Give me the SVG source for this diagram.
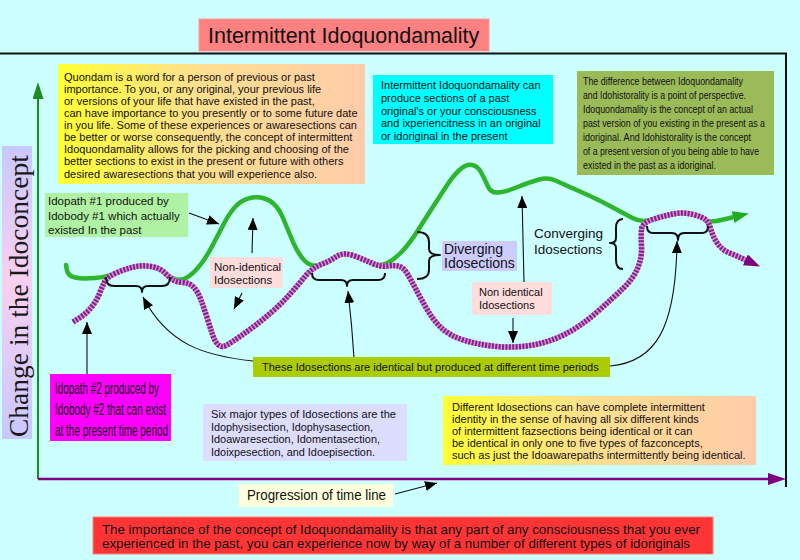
<svg xmlns="http://www.w3.org/2000/svg" width="800" height="560" viewBox="0 0 800 560">
<defs>
<style>
.t{font-family:"Liberation Sans",Arial,sans-serif;fill:#111}
.s11{font-size:11px}
.s115{font-size:11.5px}
.s14{font-size:14px}
.conn{fill:none;stroke:#111;stroke-width:1.1;marker-end:url(#ah)}
.brace{fill:none;stroke:#111;stroke-width:2;stroke-linejoin:round}
.g1{fill:none;stroke:#2eb52e;stroke-width:4.5;stroke-linecap:round;stroke-linejoin:round}
.p1{fill:none;stroke:#d39ad6;stroke-width:5.5;stroke-linejoin:round}
.p2{fill:none;stroke:#86208c;stroke-width:5.5;stroke-dasharray:2 1.4;stroke-linejoin:round}
</style>
<linearGradient id="warm" x1="0" y1="0" x2="1" y2="0"><stop offset="0" stop-color="#ffff33"/><stop offset="0.45" stop-color="#ffe08e"/><stop offset="1" stop-color="#ffccaa"/></linearGradient>
<linearGradient id="lav" x1="0" y1="0" x2="0" y2="1"><stop offset="0" stop-color="#c8c8ff"/><stop offset="0.45" stop-color="#f8d0f0"/><stop offset="1" stop-color="#c8c8ff"/></linearGradient>
<marker id="ah" viewBox="0 0 12 10" refX="12" refY="5" markerWidth="12" markerHeight="10" markerUnits="userSpaceOnUse" orient="auto"><path d="M0,0 L12,5 L0,10 z" fill="#000"/></marker>
<marker id="ahG" viewBox="0 0 16 12" refX="5" refY="6" markerWidth="16" markerHeight="12" markerUnits="userSpaceOnUse" orient="auto"><path d="M0,0 L16,6 L0,12 z" fill="#22aa22"/></marker>
<marker id="ahP" viewBox="0 0 16 12" refX="5" refY="6" markerWidth="16" markerHeight="12" markerUnits="userSpaceOnUse" orient="auto"><path d="M0,0 L16,6 L0,12 z" fill="#800080"/></marker>
<marker id="axG" viewBox="0 0 17 11" refX="0" refY="5.5" markerWidth="17" markerHeight="11" markerUnits="userSpaceOnUse" orient="auto"><path d="M0,0 L17,5.5 L0,11 z" fill="#1f8a1f"/></marker>
<marker id="axP" viewBox="0 0 18 12" refX="0" refY="6" markerWidth="18" markerHeight="12" markerUnits="userSpaceOnUse" orient="auto"><path d="M0,0 L18,6 L0,12 z" fill="#800080"/></marker>
</defs>
<rect x="0" y="0" width="800" height="560" fill="#ccffff"/>

<g id="frame">
<line x1="0" y1="53.5" x2="787" y2="53.5" stroke="#111" stroke-width="2"/>
<line x1="786" y1="53" x2="786" y2="487" stroke="#111" stroke-width="2"/>
<line x1="38" y1="479" x2="38" y2="99" stroke="#1f8a1f" stroke-width="2" marker-end="url(#axG)"/>
<line x1="38" y1="479" x2="768" y2="479" stroke="#800080" stroke-width="2.5" marker-end="url(#axP)"/>
</g>

<g id="title">
<rect x="199" y="19" width="290" height="32" fill="#ff8080" stroke="#ff9a9a" stroke-width="1"/>
<text class="t" x="208" y="42.5" font-size="21.5">Intermittent Idoquondamality</text>
</g>

<g id="ylabel">
<rect x="2" y="146" width="30" height="293" fill="url(#lav)"/>
<text transform="translate(28,437) rotate(-90)" font-family="'Liberation Serif','Times New Roman',serif" font-size="27.5" fill="#1a1a1a">Change in the Idoconcept</text>
</g>

<g id="paths">
<path id="idopath1" class="g1" d="M66,265 L67,270.5 Q68,276 75,277.5 Q82,279 94.5,278 Q107,277 116,273 Q125,269 133.5,267 Q142,265 151,266.5 Q160,268 165,273 Q170,278 176,279.5 Q182,281 188.5,276.5 Q195,272 201,264 Q207,256 212.5,245.5 Q218,235 224,223.5 Q230,212 236.5,205.5 Q243,199 252.5,197.5 Q262,196 270,201 Q278,206 283,218 Q288,230 293,242 Q298,254 305,261 Q312,268 321,264.5 Q330,261 336.5,256.5 Q343,252 353,255.5 Q363,259 371.5,263 Q380,267 387.5,263 Q395,259 402.5,251 Q410,243 418.5,229.5 Q427,216 433.5,206 Q440,196 446.5,186 Q453,176 459.5,170 Q466,164 472,165 Q478,166 481.5,173 Q485,180 488,186.5 Q491,193 498,192.5 Q505,192 517.5,187 Q530,182 539,179.5 Q548,177 555.5,180.5 Q563,184 580,191.5 Q597,199 610,206 Q623,213 632.5,218 Q642,223 652.5,219.5 Q663,216 673,214 Q683,212 693,214.5 Q703,217 706,220 Q709,223 723.5,219.5 L738,216" marker-end="url(#ahG)"/>
<g id="idopath2">
<path class="p1" d="M73,322 L80,317.5 Q87,313 92,306.5 Q97,300 99.5,293.5 Q102,287 104.5,282 Q107,277 116,273 Q125,269 133.5,267 Q142,265 151,266.5 Q160,268 165,273 Q170,278 173,280 Q176,282 183,282.5 Q190,283 194,287.5 Q198,292 201,300 Q204,308 207,317.5 Q210,327 212.5,334.5 Q215,342 218.5,345 Q222,348 227,345 Q232,342 240,336.5 Q248,331 256.5,324.5 Q265,318 274,310 Q283,302 290.5,293.5 Q298,285 305,276.5 Q312,268 321,264.5 Q330,261 336.5,256.5 Q343,252 353,255.5 Q363,259 371.5,263 Q380,267 387.5,266 Q395,265 399.5,266.5 Q404,268 407.5,274 Q411,280 415.5,288.5 Q420,297 426.5,308.5 Q433,320 441.5,328 Q450,336 465,340.5 Q480,345 496.5,346.5 Q513,348 530,345.5 Q547,343 563.5,335 Q580,327 596.5,312.5 Q613,298 623,288.5 Q633,279 637.5,268.5 Q642,258 641.5,247 Q641,236 641.5,229.5 Q642,223 652.5,219.5 Q663,216 673,214 Q683,212 693,214.5 Q703,217 706,220 Q709,223 711,230 Q713,237 717.5,243.5 Q722,250 729.5,253 Q737,256 743.5,259 L750,262"/>
<path class="p2" d="M73,322 L80,317.5 Q87,313 92,306.5 Q97,300 99.5,293.5 Q102,287 104.5,282 Q107,277 116,273 Q125,269 133.5,267 Q142,265 151,266.5 Q160,268 165,273 Q170,278 173,280 Q176,282 183,282.5 Q190,283 194,287.5 Q198,292 201,300 Q204,308 207,317.5 Q210,327 212.5,334.5 Q215,342 218.5,345 Q222,348 227,345 Q232,342 240,336.5 Q248,331 256.5,324.5 Q265,318 274,310 Q283,302 290.5,293.5 Q298,285 305,276.5 Q312,268 321,264.5 Q330,261 336.5,256.5 Q343,252 353,255.5 Q363,259 371.5,263 Q380,267 387.5,266 Q395,265 399.5,266.5 Q404,268 407.5,274 Q411,280 415.5,288.5 Q420,297 426.5,308.5 Q433,320 441.5,328 Q450,336 465,340.5 Q480,345 496.5,346.5 Q513,348 530,345.5 Q547,343 563.5,335 Q580,327 596.5,312.5 Q613,298 623,288.5 Q633,279 637.5,268.5 Q642,258 641.5,247 Q641,236 641.5,229.5 Q642,223 652.5,219.5 Q663,216 673,214 Q683,212 693,214.5 Q703,217 706,220 Q709,223 711,230 Q713,237 717.5,243.5 Q722,250 729.5,253 Q737,256 743.5,259 L750,262" marker-end="url(#ahP)"/>
</g>
</g>

<g id="braces">
<path class="brace" d="M106,277 Q106,286 114,286 L136,286 Q142,286 142,292 Q142,286 148,286 L162,286 Q170,286 170,277"/>
<path class="brace" d="M312,273 Q312,280 319,280 L341,280 Q347,280 347,286 Q347,280 353,280 L378,280 Q385,280 385,273"/>
<path class="brace" d="M417,232 Q429,232 429,242 L429,249 Q429,255 440,255 Q429,255 429,261 L429,270 Q429,279 417,279"/>
<path class="brace" d="M623,219 Q616,219 616,228 L616,238 Q616,243 610,243 Q616,243 616,248 L616,260 Q616,269 623,269"/>
<path class="brace" d="M647,226 Q647,233 653,233 L672,233 Q678,233 678,240 Q678,233 684,233 L702,233 Q708,233 708,226"/>
</g>

<g id="connectors">
<path class="conn" d="M189,213 L219,224"/>
<path class="conn" d="M252,253 L253,218"/>
<path class="conn" d="M242,293 L234,309"/>
<path class="conn" d="M253,361 C205,356 168,345 143,297"/>
<path class="conn" d="M354,358 Q352,325 348,291"/>
<path class="conn" d="M610,366 C655,362 676,330 677,241"/>
<path class="conn" d="M524,282 L522,196"/>
<path class="conn" d="M513,318 L513,343"/>
<path class="conn" d="M87,374 L87,322"/>
<path class="conn" d="M395,494 L437,483"/>
</g>

<g id="quondam">
<rect x="58" y="64" width="307" height="120" fill="url(#warm)"/>
<text class="t s11" x="64" y="81">Quondam is a word for a person of previous or past</text>
<text class="t s11" x="64" y="93">importance. To you, or any original, your previous life</text>
<text class="t s11" x="64" y="105.1">or versions of your life that have existed in the past,</text>
<text class="t s11" x="64" y="117.2">can have importance to you presently or to some future date</text>
<text class="t s11" x="64" y="129.2">in you life. Some of these experiences or awaresections can</text>
<text class="t s11" x="64" y="141.3">be better or worse consequently, the concept of intermittent</text>
<text class="t s11" x="64" y="153.4">Idoquondamality allows for the picking and choosing of the</text>
<text class="t s11" x="64" y="165.4">better sections to exist in the present or future with others</text>
<text class="t s11" x="64" y="177.5">desired awaresections that you will experience also.</text>
</g>

<g id="produce">
<rect x="373" y="75" width="180" height="69" fill="#00ffff"/>
<text class="t s11" x="381" y="89">Intermittent Idoquondamality can</text>
<text class="t s11" x="381" y="101.8">produce sections of a past</text>
<text class="t s11" x="381" y="114.6">original's or your consciousness</text>
<text class="t s11" x="381" y="127.4">and ixperiencitness in an original</text>
<text class="t s11" x="381" y="140.2">or idoriginal in the present</text>
</g>

<g id="difference">
<rect x="577" y="71" width="197" height="104" fill="#9bbb59"/>
<text class="t" font-size="10.6" x="583" y="84.5" textLength="160" lengthAdjust="spacingAndGlyphs">The difference between Idoquondamality</text>
<text class="t" font-size="10.6" x="583" y="98.5" textLength="163" lengthAdjust="spacingAndGlyphs">and Idohistorality is a point of perspective.</text>
<text class="t" font-size="10.6" x="583" y="112.5" textLength="170" lengthAdjust="spacingAndGlyphs">Idoquondamality is the concept of an actual</text>
<text class="t" font-size="10.6" x="583" y="126.5" textLength="182" lengthAdjust="spacingAndGlyphs">past version of you existing in the present as a</text>
<text class="t" font-size="10.6" x="583" y="140.5" textLength="168" lengthAdjust="spacingAndGlyphs">idoriginal. And Idohistorality is  the concept</text>
<text class="t" font-size="10.6" x="583" y="154.5" textLength="176" lengthAdjust="spacingAndGlyphs">of a present version of you being able to have</text>
<text class="t" font-size="10.6" x="583" y="169" textLength="133" lengthAdjust="spacingAndGlyphs">existed in the past as a idoriginal.</text>
</g>

<g id="idopath1-label">
<rect x="45" y="193" width="143" height="44" fill="#b0f2a4"/>
<text class="t s115" x="48" y="205">Idopath #1 produced by</text>
<text class="t s115" x="48" y="219.5">Idobody #1 which  actually</text>
<text class="t s115" x="48" y="234">existed In the past</text>
</g>

<g id="nonidentical1">
<rect x="210" y="257" width="73" height="31" fill="#ffdddd"/>
<text class="t s115" x="214" y="271">Non-identical</text>
<text class="t s115" x="214" y="284">Idosections</text>
</g>

<g id="diverging">
<rect x="442" y="241" width="75" height="30" fill="#ccccff"/>
<text class="t s14" x="444" y="254">Diverging</text>
<text class="t s14" x="444" y="268">Idosections</text>
</g>

<g id="converging">
<text class="t" font-size="13.5" x="534" y="238">Converging</text>
<text class="t" font-size="13.5" x="534" y="254">Idosections</text>
</g>

<g id="nonidentical2">
<rect x="472" y="282" width="80" height="33" fill="#ffdddd"/>
<text class="t s11" x="479" y="296">Non identical</text>
<text class="t s11" x="479" y="308.5">Idosections</text>
</g>

<g id="identical">
<rect x="253" y="357" width="357" height="20" fill="#aacc00"/>
<text class="t s11" x="262" y="371">These Idosections are identical but produced at different time periods</text>
</g>

<g id="idopath2-label">
<rect x="50" y="374" width="121" height="67" fill="#ff00ff"/>
<text class="t" font-size="17" x="55" y="394" textLength="104" lengthAdjust="spacingAndGlyphs">Idopath #2 produced by</text>
<text class="t" font-size="17" x="55" y="415" textLength="111" lengthAdjust="spacingAndGlyphs">Idobody #2 that can exist</text>
<text class="t" font-size="17" x="55" y="436" textLength="113" lengthAdjust="spacingAndGlyphs">at the present time period</text>
</g>

<g id="sixtypes">
<rect x="203" y="404" width="204" height="57" fill="#ddddff"/>
<text class="t" font-size="10.2" x="211" y="418" textLength="185" lengthAdjust="spacingAndGlyphs">Six major types of Idosections are the</text>
<text class="t" font-size="10.2" x="211" y="430.5" textLength="162" lengthAdjust="spacingAndGlyphs">Idophysisection, Idophysasection,</text>
<text class="t" font-size="10.2" x="211" y="443" textLength="169" lengthAdjust="spacingAndGlyphs">Idoawaresection, Idomentasection,</text>
<text class="t" font-size="10.2" x="211" y="455.5" textLength="164" lengthAdjust="spacingAndGlyphs">Idoixpesection, and Idoepisection.</text>
</g>

<g id="different">
<rect x="443" y="396" width="313" height="69" fill="url(#warm)"/>
<text class="t s11" x="452" y="411">Different Idosections can have complete intermittent</text>
<text class="t s11" x="452" y="423">identity in the sense of having all six different kinds</text>
<text class="t s11" x="452" y="435">of intermittent fazsections being identical or it can</text>
<text class="t s11" x="452" y="447">be identical in only one to five types of fazconcepts,</text>
<text class="t s11" x="452" y="459">such as just the Idoawarepaths intermittently being identical.</text>
</g>

<g id="progression">
<rect x="239" y="484" width="154" height="23" fill="#ffffdd"/>
<text class="t s14" x="247" y="500" textLength="139" lengthAdjust="spacingAndGlyphs">Progression of time line</text>
</g>

<g id="importance">
<rect x="93" y="517" width="620" height="37" fill="#ff3535" stroke="#ff8080" stroke-width="1"/>
<text class="t" font-size="12.8" x="102" y="533.5" textLength="598" lengthAdjust="spacingAndGlyphs">The importance of the concept of Idoquondamality is that any part of any consciousness that you ever</text>
<text class="t" font-size="12.8" x="102" y="547.5" textLength="588" lengthAdjust="spacingAndGlyphs">experienced in the past, you can experience now by way of a number of different types of idoriginals</text>
</g>
</svg>
